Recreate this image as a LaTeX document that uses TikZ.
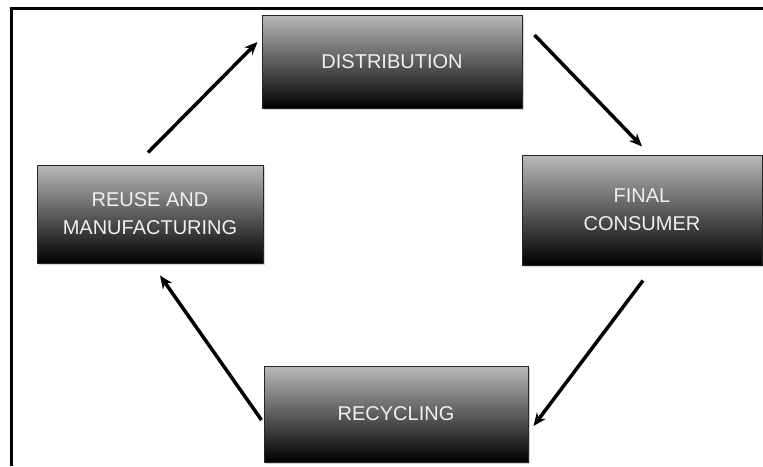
\documentclass[tikz,border=0pt]{standalone}
\usepackage{fontspec}
\setmainfont{Liberation Sans}
\usepackage{xcolor}
\usetikzlibrary{arrows.meta, shadows}

\definecolor{boxtop}{RGB}{185,185,185}
\definecolor{boxmid}{RGB}{140,140,140}

\begin{document}
\begin{tikzpicture}[x=1pt, y=-1pt, >={Stealth[length=13pt, width=11pt]},
		line width=3.5pt,
		stage/.style={rectangle, draw=black!85, line width=1pt,
			top color=boxtop, middle color=boxmid, bottom color=black,
			drop shadow={shadow xshift=2pt, shadow yshift=-2pt, opacity=0.35},
			text=white!94!black, align=center,
			font=\fontsize{20}{28}\selectfont}]
		\useasboundingbox (0,0) rectangle (763,466);

		% open frame: left and top edges only
		\draw[line width=3pt] (11,466) -- (11,8) -- (763,8);

		\node[stage, minimum width=260, minimum height=93] (distribution) at (392,61.5) {DISTRIBUTION};
		\node[stage, minimum width=240, minimum height=110] (consumer) at (642,210) {FINAL\\CONSUMER};
		\node[stage, minimum width=264, minimum height=96] (recycling) at (396,414) {RECYCLING};
		\node[stage, minimum width=226, minimum height=98] (reuse) at (150,214) {REUSE AND\\MANUFACTURING};

		\draw[->] ([shift={(-2,-12)}]reuse.north) -- ([shift={(-4,-19.5)}]distribution.west);
		\draw[->] ([shift={(12,-26.5)}]distribution.east) -- ([shift={(0,-8)}]consumer.north);
		\draw[->] ([shift={(1,15)}]consumer.south) -- ([shift={(5,12)}]recycling.east);
		\draw[->] ([shift={(-2,6)}]recycling.west) -- ([shift={(10,12)}]reuse.south);
	\end{tikzpicture}
\end{document}
